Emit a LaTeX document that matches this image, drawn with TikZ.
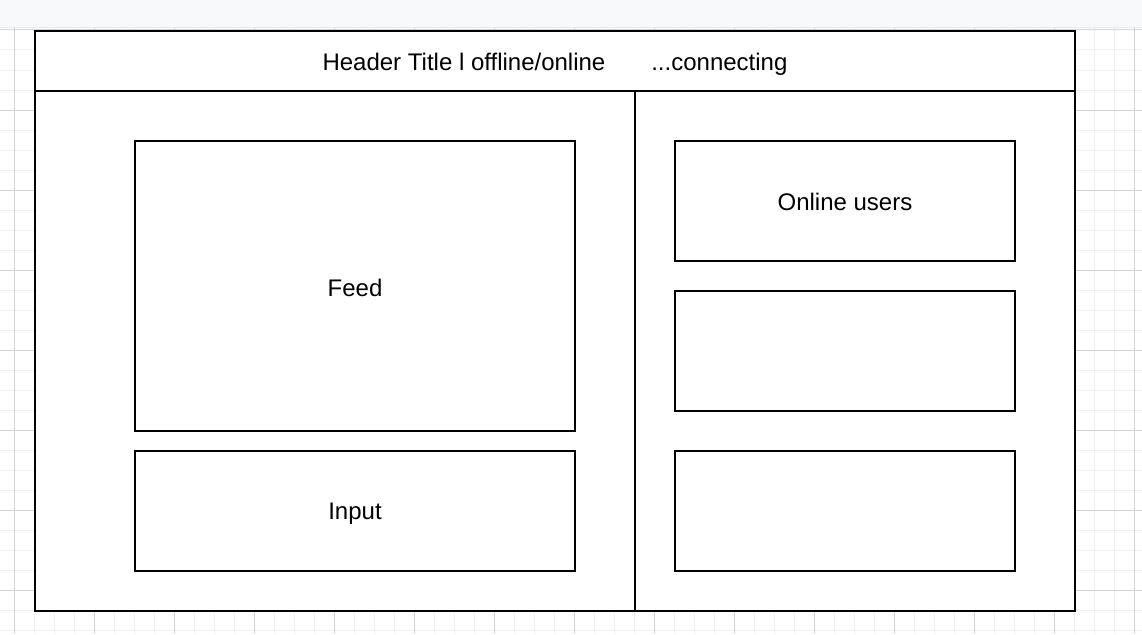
\documentclass[tikz,border=0pt]{standalone}
\usepackage{fontspec}
\setmainfont{Liberation Sans}
\begin{document}
\begin{tikzpicture}[x=1pt,y=-1pt,
  panel/.style={draw=black,line width=2pt,fill=white,rectangle,inner sep=0pt,outer sep=0pt,anchor=north west},
  lbl/.style={font=\fontsize{24}{29}\selectfont,text=black,inner sep=0pt}]
\useasboundingbox (0,0) rectangle (1142,634);
\fill[white] (0,0) rectangle (1142,634);
% grid
\begin{scope}
\clip (0,28) rectangle (1142,634);
\foreach \x in {-6,14,...,1142} \draw[line width=1pt,color={rgb,255:red,240;green,240;blue,240}] (\x,28) -- (\x,634);
\foreach \y in {10,30,...,634} \draw[line width=1pt,color={rgb,255:red,240;green,240;blue,240}] (0,\y) -- (1142,\y);
\foreach \x in {14,94,...,1142} \draw[line width=1pt,color={rgb,255:red,212;green,212;blue,212}] (\x,28) -- (\x,634);
\foreach \y in {30,110,...,634} \draw[line width=1pt,color={rgb,255:red,212;green,212;blue,212}] (0,\y) -- (1142,\y);
\end{scope}
% toolbar
\fill[color={rgb,255:red,248;green,249;blue,250}] (0,0) rectangle (1142,27);
\fill[color={rgb,255:red,232;green,233;blue,235}] (0,27) rectangle (1142,28.5);
% main frame
\node[panel,minimum width=1040pt,minimum height=580pt] (main) at (35,31) {};
\node[panel,minimum width=1040pt,minimum height=60pt,fill=none] (header) at (35,31) {};
\coordinate (divtop) at (635,91);
\coordinate (divbot) at (635,611);
\draw[line width=2pt] (divtop) -- (divbot);
\node[lbl] (title) at (555,64) {Header Title l offline/online\hspace{46pt}...connecting};
% left panels
\node[panel,minimum width=440pt,minimum height=290pt] (feed) at (135,141) {};
\node[lbl] at ([yshift=-2pt]feed.center) {Feed};
\node[panel,minimum width=440pt,minimum height=120pt] (input) at (135,451) {};
\node[lbl] at ([yshift=-3pt]input.center) {Input};
% right panels
\node[panel,minimum width=340pt,minimum height=120pt] (users) at (675,141) {};
\node[lbl] at ([yshift=-1pt]users.center) {Online users};
\node[panel,minimum width=340pt,minimum height=120pt] (box2) at (675,291) {};
\node[panel,minimum width=340pt,minimum height=120pt] (box3) at (675,451) {};
\end{tikzpicture}
\end{document}
